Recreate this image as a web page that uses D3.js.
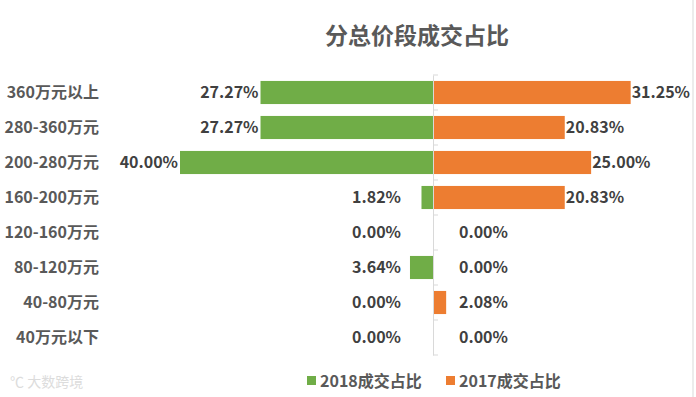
<!DOCTYPE html>
<html>
<head>
<meta charset="utf-8">
<script src="https://cdn.jsdelivr.net/npm/d3@7"></script>
<style>
  body { margin: 0; background: #fff; }
  text { font-family: "Noto Sans CJK SC", "Noto Sans", sans-serif; }
</style>
</head>
<body>
<script>
// price bands, top to bottom
const categories = ['360万元以上', '280-360万元', '200-280万元', '160-200万元',
                    '120-160万元', '80-120万元', '40-80万元', '40万元以下'];
// share of deals, percent
const share2018 = [27.27, 27.27, 40.00, 1.82, 0.00, 3.64, 0.00, 0.00];
const share2017 = [31.25, 20.83, 25.00, 20.83, 0.00, 0.00, 2.08, 0.00];
const seriesNames = ['2018成交占比', '2017成交占比'];

const width = 696;
const height = 397;
const green = '#70ad47';
const orange = '#ed7d31';

const rows = categories.map((c, i) => ({name: c, a: share2018[i], b: share2017[i]}));

const svg = d3.select('body')
  .append('svg')
  .attr('width', width)
  .attr('height', height);

// x: negative side for 2018, positive for 2017
const xScale = d3.scaleLinear()
  .domain([-40, 40])
  .range([180, 686]);

const yScale = d3.scaleBand()
  .domain(categories)
  .range([75, 355])
  .paddingInner(0.34)
  .paddingOuter(0.17);

const x0 = xScale(0);

// right frame line
svg.append('line')
  .attr('x1', 693).attr('x2', 693)
  .attr('y1', 0).attr('y2', height)
  .attr('stroke', '#d9d9d9');

// title
svg.append('text')
  .attr('x', 417)
  .attr('y', 44)
  .attr('text-anchor', 'middle')
  .attr('font-size', 23)
  .attr('font-weight', 'bold')
  .attr('fill', '#595959')
  .text('分总价段成交占比');

// 2018 bars (left)
svg.append('g')
  .selectAll('rect')
  .data(rows)
  .join('rect')
  .attr('x', d => xScale(-d.a))
  .attr('y', d => yScale(d.name))
  .attr('width', d => x0 - xScale(-d.a))
  .attr('height', yScale.bandwidth())
  .attr('fill', green);

// 2017 bars (right)
svg.append('g')
  .selectAll('rect')
  .data(rows)
  .join('rect')
  .attr('x', x0)
  .attr('y', d => yScale(d.name))
  .attr('width', d => xScale(d.b) - x0)
  .attr('height', yScale.bandwidth())
  .attr('fill', orange);

// centre axis with ticks between bands
const yAxis = d3.axisRight(yScale).tickSize(0).tickFormat('');
const axisG = svg.append('g')
  .attr('transform', `translate(${x0},0)`)
  .call(yAxis);
axisG.select('.domain').attr('stroke', '#d9d9d9');

const boundaries = d3.range(categories.length + 1).map(i => 75 + i * (280 / categories.length));
axisG.selectAll('.bt')
  .data(boundaries)
  .join('line')
  .attr('class', 'bt')
  .attr('x1', 0).attr('x2', 5)
  .attr('y1', d => d).attr('y2', d => d)
  .attr('stroke', '#d9d9d9');

// category labels
svg.append('g')
  .selectAll('text')
  .data(rows)
  .join('text')
  .attr('x', 99)
  .attr('y', d => yScale(d.name) + yScale.bandwidth() / 2)
  .attr('dy', '0.36em')
  .attr('text-anchor', 'end')
  .attr('font-size', 16)
  .attr('font-weight', 'bold')
  .attr('fill', '#595959')
  .text(d => d.name);

// value labels
const fmt = d => d.toFixed(2) + '%';

svg.append('g')
  .selectAll('text')
  .data(rows)
  .join('text')
  .attr('x', d => Math.min(xScale(-d.a) - 2, 401))
  .attr('y', d => yScale(d.name) + yScale.bandwidth() / 2)
  .attr('dy', '0.36em')
  .attr('text-anchor', 'end')
  .attr('font-size', 16)
  .attr('font-weight', 'bold')
  .attr('fill', '#404040')
  .text(d => fmt(d.a));

svg.append('g')
  .selectAll('text')
  .data(rows)
  .join('text')
  .attr('x', d => Math.max(xScale(d.b) + 1, 459))
  .attr('y', d => yScale(d.name) + yScale.bandwidth() / 2)
  .attr('dy', '0.36em')
  .attr('text-anchor', 'start')
  .attr('font-size', 16)
  .attr('font-weight', 'bold')
  .attr('fill', '#404040')
  .text(d => fmt(d.b));

// legend
const legend = svg.append('g')
  .selectAll('g')
  .data(seriesNames)
  .join('g')
  .attr('transform', (d, i) => `translate(${307 + i * 139},376)`);

legend.append('rect')
  .attr('width', 9)
  .attr('height', 9)
  .attr('fill', (d, i) => i === 0 ? green : orange);

legend.append('text')
  .attr('x', 13)
  .attr('y', 5)
  .attr('dy', '0.36em')
  .attr('font-size', 16)
  .attr('font-weight', 'bold')
  .attr('fill', '#595959')
  .text(d => d);

// faint watermark
svg.append('text')
  .attr('x', 10)
  .attr('y', 387)
  .attr('font-size', 14)
  .attr('fill', '#dcdcdc')
  .text('℃ 大数跨境');
</script>
</body>
</html>
